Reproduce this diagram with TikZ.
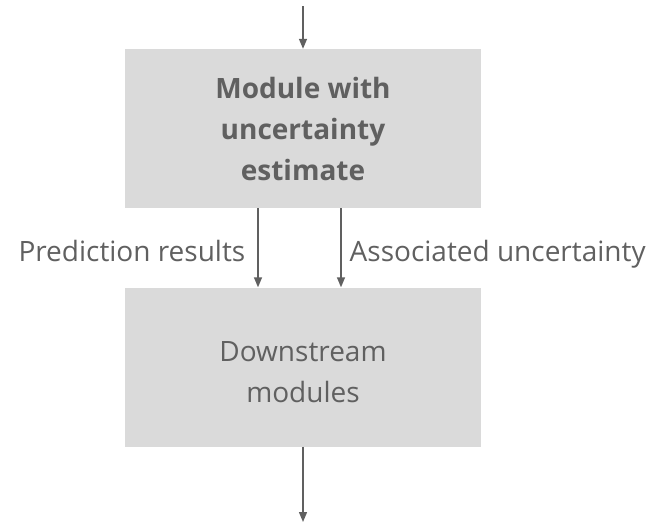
\documentclass[tikz,border=0pt]{standalone}
\usepackage{fontspec}
\setmainfont{Open Sans}
\usetikzlibrary{arrows.meta}
\definecolor{boxgray}{HTML}{DADADA}
\definecolor{inkgray}{HTML}{606060}
\tikzset{
  modbox/.style={fill=boxgray, minimum width=356pt, minimum height=159pt, inner sep=0pt,
    text=inkgray, align=center, font=\fontsize{28}{41}\selectfont},
  flow/.style={draw=inkgray, line width=1.4pt, -{Triangle[width=8pt,length=10pt]}},
  lbl/.style={text=inkgray, font=\fontsize{28}{30}\selectfont, inner sep=0pt}
}
\begin{document}
\begin{tikzpicture}[x=1pt, y=-1pt]
\useasboundingbox (0,0) rectangle (652,522);
% Boxes
\node[modbox, font=\fontsize{28}{41}\selectfont\bfseries] (mod) at (303,128.5) {Module with\\uncertainty\\estimate};
\node[modbox] (down) at (303,367) {\rule{0pt}{31pt}Downstream\\modules};
\coordinate (in) at (303,6);
\coordinate (out) at (303,522);

% Arrows
\draw[flow] (in) -- (mod.north);
\draw[flow] ([xshift=-45pt]mod.south) -- ([xshift=-45pt]down.north)
  node[lbl, pos=0.67, anchor=base east, xshift=-12pt] (pred) {Prediction results};
\draw[flow] ([xshift=38pt]mod.south) -- ([xshift=38pt]down.north)
  node[lbl, pos=0.67, anchor=base west, xshift=8pt] (unc) {Associated uncertainty};
\draw[flow] (down.south) -- (out);
\end{tikzpicture}
\end{document}
